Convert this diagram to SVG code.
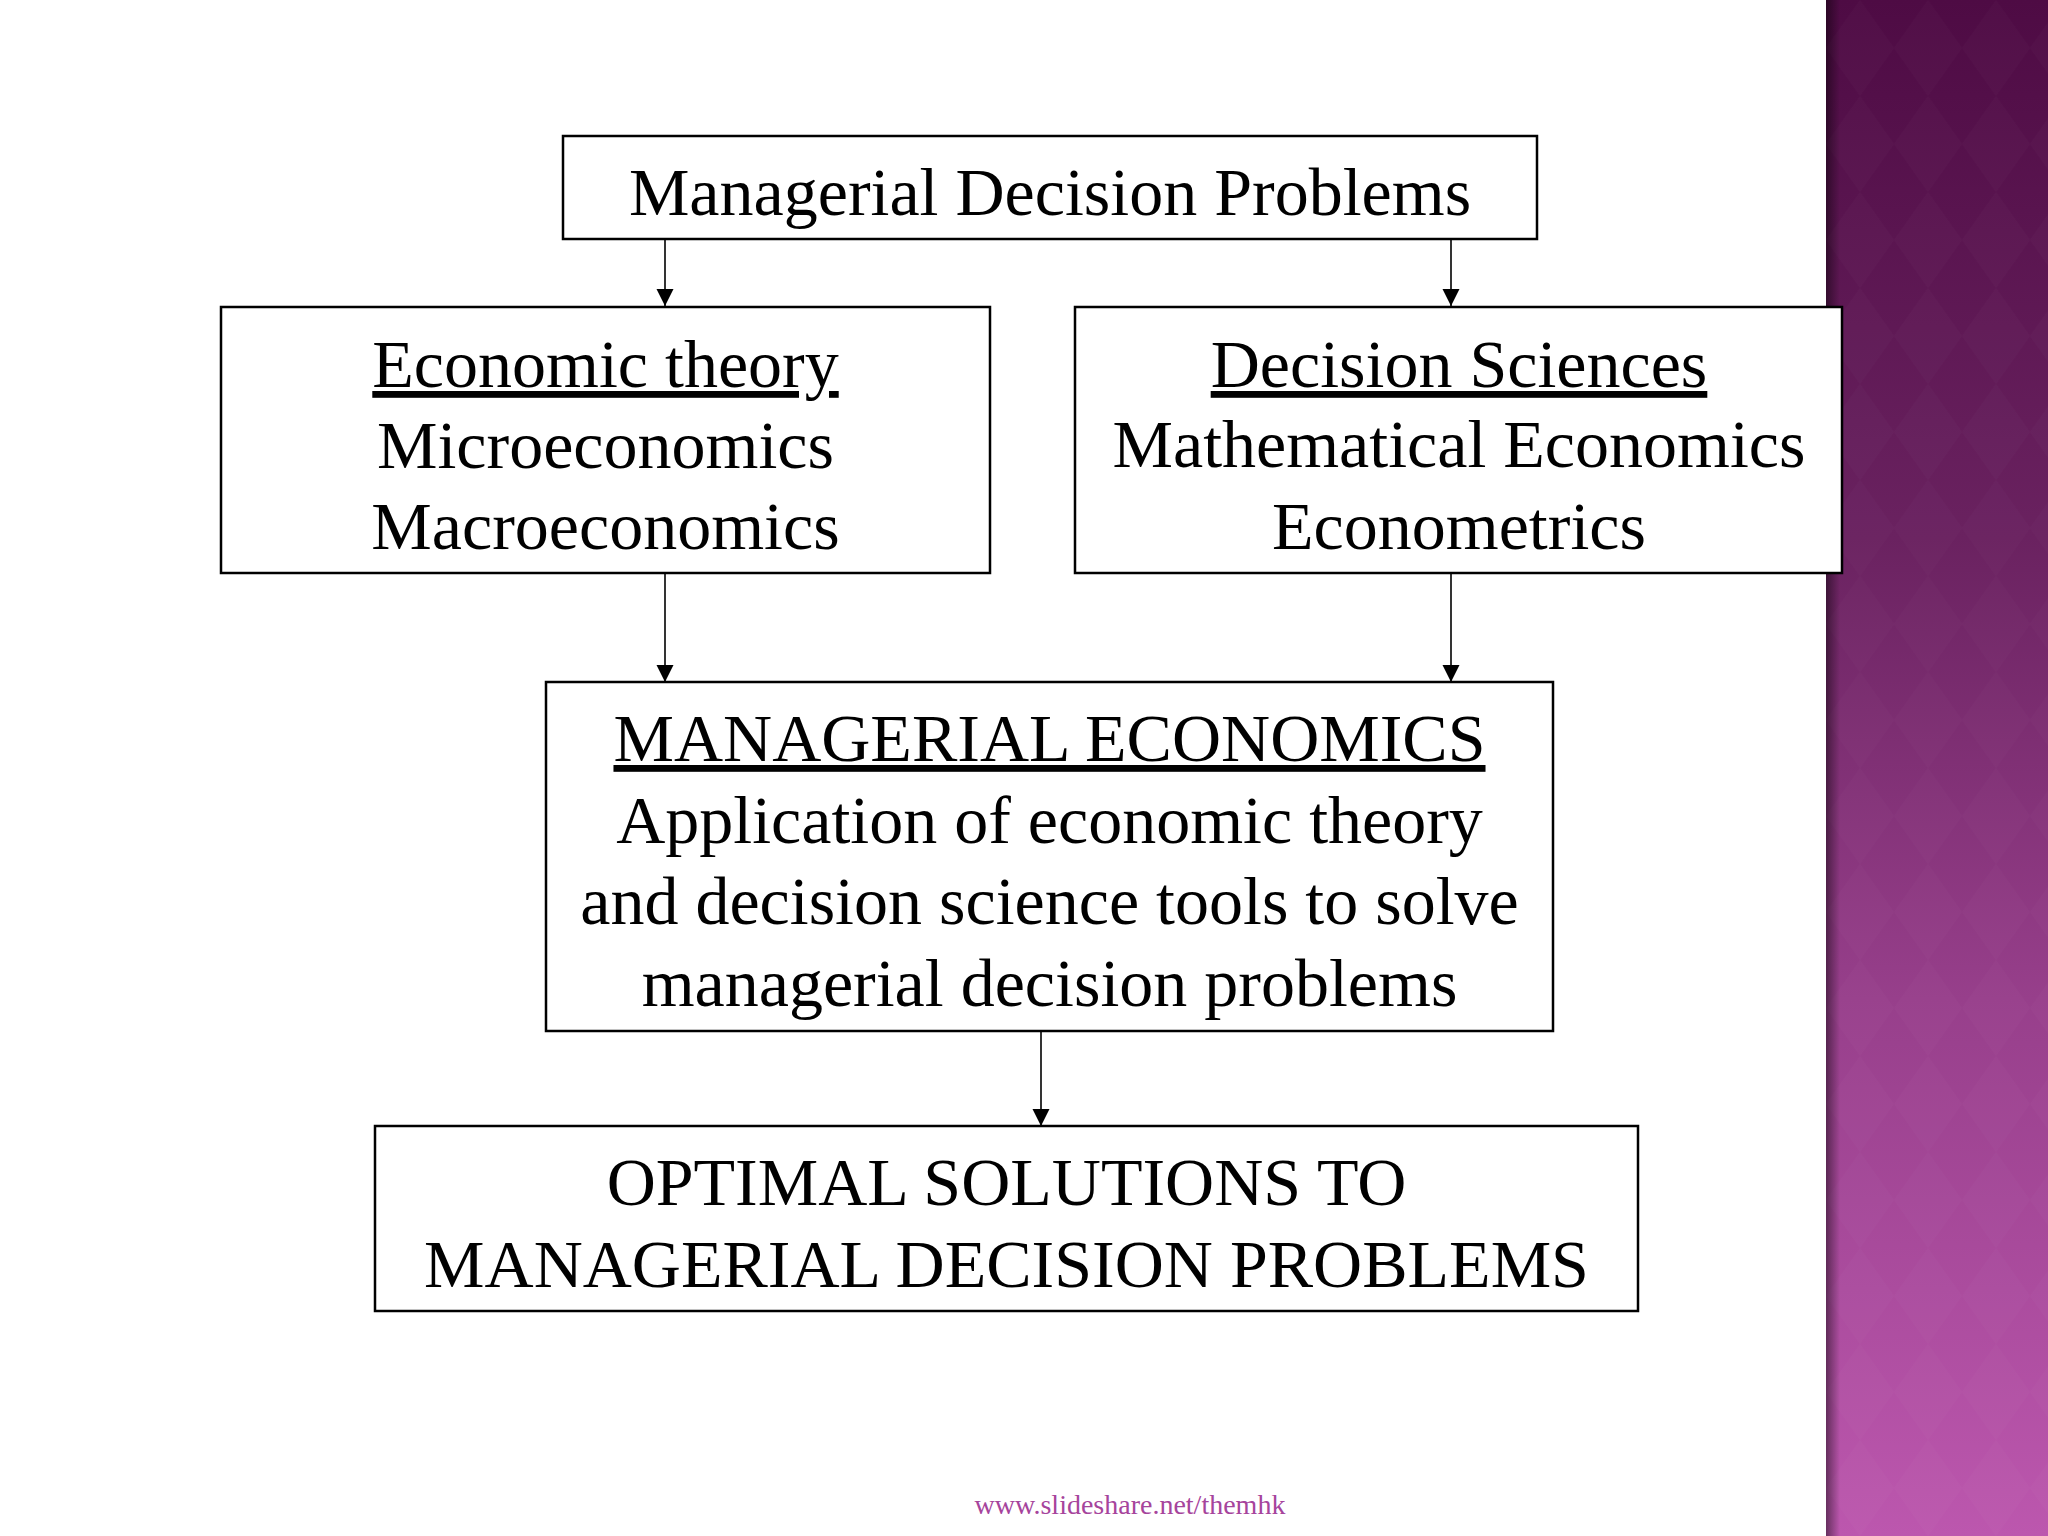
<svg xmlns="http://www.w3.org/2000/svg" width="2048" height="1536" viewBox="0 0 2048 1536">
  <style>
    .box { fill: #ffffff; stroke: #000000; stroke-width: 2.5; }
    .txt { font-family: "Liberation Serif", "Times New Roman", serif; font-size: 68px; fill: #000000; text-anchor: middle; }
    .ul { text-decoration: underline; }
    .conn { stroke: #000000; stroke-width: 1.6; fill: none; marker-end: url(#arrow); }
    .footer { font-family: "Liberation Serif", "Times New Roman", serif; font-size: 28px; fill: #a6449c; text-anchor: middle; }
  </style>
  <defs>
    <marker id="arrow" markerUnits="userSpaceOnUse" markerWidth="18" markerHeight="18" refX="17" refY="8.5" orient="auto">
      <path d="M0,0 L17,8.5 L0,17 Z" fill="#000000"/>
    </marker>
    <linearGradient id="bandGrad" x1="0" y1="0" x2="0" y2="1">
      <stop offset="0" stop-color="#4e0b44"/>
      <stop offset="0.35" stop-color="#6a2260"/>
      <stop offset="0.65" stop-color="#973f8b"/>
      <stop offset="1" stop-color="#bc57ae"/>
    </linearGradient>
    <linearGradient id="edgeShadow" x1="0" y1="0" x2="1" y2="0">
      <stop offset="0" stop-color="#000000" stop-opacity="0.45"/>
      <stop offset="1" stop-color="#000000" stop-opacity="0"/>
    </linearGradient>
    <pattern id="diamonds" patternUnits="userSpaceOnUse" width="68" height="96" x="1826" y="0">
      <path d="M34,0 L68,48 L34,96 L0,48 Z" fill="#ffffff" fill-opacity="0.015"/>
    </pattern>
  </defs>

  <rect x="0" y="0" width="2048" height="1536" fill="#ffffff"/>

  <g id="side-band">
    <rect x="1826" y="0" width="222" height="1536" fill="url(#bandGrad)"/>
    <rect x="1826" y="0" width="222" height="1536" fill="url(#diamonds)"/>
    <rect x="1826" y="0" width="14" height="1536" fill="url(#edgeShadow)"/>
  </g>

  <g id="connectors">
    <line class="conn" x1="665" y1="240" x2="665" y2="306"/>
    <line class="conn" x1="1451" y1="240" x2="1451" y2="306"/>
    <line class="conn" x1="665" y1="574" x2="665" y2="682"/>
    <line class="conn" x1="1451" y1="574" x2="1451" y2="682"/>
    <line class="conn" x1="1041" y1="1032" x2="1041" y2="1126"/>
  </g>

  <g id="node-problems">
    <rect class="box" x="563" y="136" width="974" height="103"/>
    <text class="txt" x="1050" y="215">Managerial Decision Problems</text>
  </g>

  <g id="node-economic-theory">
    <rect class="box" x="221" y="307" width="769" height="266"/>
    <text class="txt ul" x="605.5" y="387">Economic theory</text>
    <text class="txt" x="605.5" y="468">Microeconomics</text>
    <text class="txt" x="605.5" y="549">Macroeconomics</text>
  </g>

  <g id="node-decision-sciences">
    <rect class="box" x="1075" y="307" width="767" height="266"/>
    <text class="txt ul" x="1459" y="387">Decision Sciences</text>
    <text class="txt" x="1459" y="467">Mathematical Economics</text>
    <text class="txt" x="1459" y="549">Econometrics</text>
  </g>

  <g id="node-managerial-economics">
    <rect class="box" x="546" y="682" width="1007" height="349"/>
    <text class="txt ul" x="1049.5" y="761">MANAGERIAL ECONOMICS</text>
    <text class="txt" x="1049.5" y="843">Application of economic theory</text>
    <text class="txt" x="1049.5" y="924">and decision science tools to solve</text>
    <text class="txt" x="1049.5" y="1006">managerial decision problems</text>
  </g>

  <g id="node-optimal-solutions">
    <rect class="box" x="375" y="1126" width="1263" height="185"/>
    <text class="txt" x="1006.5" y="1205">OPTIMAL SOLUTIONS TO</text>
    <text class="txt" x="1006.5" y="1287">MANAGERIAL DECISION PROBLEMS</text>
  </g>

  <text class="footer" x="1130" y="1514">www.slideshare.net/themhk</text>
</svg>
